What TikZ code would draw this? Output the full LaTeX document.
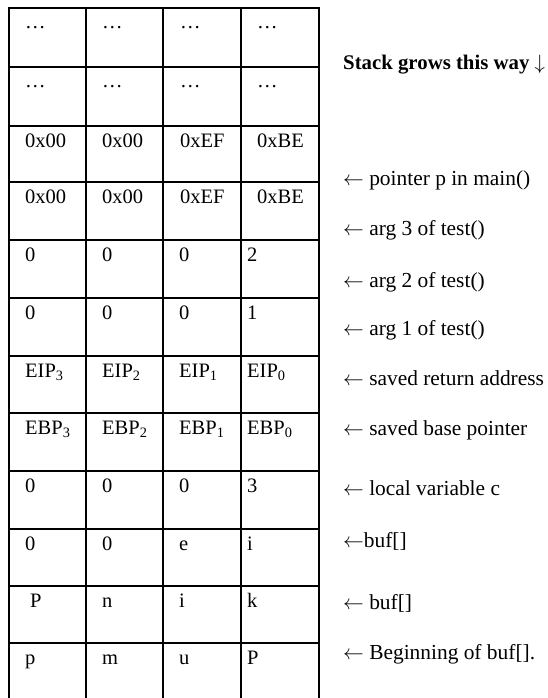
\documentclass[tikz,border=0pt]{standalone}
\usepackage{fontspec}
\setmainfont{Liberation Serif}
\newcommand{\larr}{$\leftarrow$}
\begin{document}
\begin{tikzpicture}[x=1pt,y=-1pt,
  gridline/.style={line width=1.7pt, line cap=rect},
  celltext/.style={anchor=base west, inner sep=0pt, font=\fontsize{20.5}{24}\selectfont},
  labeltext/.style={anchor=base west, inner sep=0pt, font=\fontsize{21.4}{25}\selectfont}]
\useasboundingbox (0,0) rectangle (548,698);
% grid
\def\rowtops{8,67,126,182,240,298,356,413,471,529,586,643}
\foreach \y in \rowtops { \draw[gridline] (9,\y) -- (319,\y); }
\foreach \x in {9,86,163,241,319} { \draw[gridline] (\x,8) -- (\x,698); }
% cell texts: upper rows
\foreach \r/\y in {1/8,2/67} {
  \foreach \c/\x in {1/25,2/102,3/180,4/257} {
    \node[celltext] (c\r\c) at (\x,\y+21) {\dots};
  }
}
\foreach \r/\y in {3/126,4/182} {
  \node[celltext] (c\r1) at (25,\y+21) {0x00};
  \node[celltext] (c\r2) at (102,\y+21) {0x00};
  \node[celltext] (c\r3) at (180,\y+21) {0xEF};
  \node[celltext] (c\r4) at (257,\y+21) {0xBE};
}
% lower rows
\foreach \r/\y/\a/\b/\cc/\d in {
   5/240/0/0/0/2,
   6/298/0/0/0/1,
   7/356/EIP\textsubscript{3}/EIP\textsubscript{2}/EIP\textsubscript{1}/EIP\textsubscript{0},
   8/413/EBP\textsubscript{3}/EBP\textsubscript{2}/EBP\textsubscript{1}/EBP\textsubscript{0},
   9/471/0/0/0/3,
   10/529/0/0/e/i,
   12/643/p/m/u/P} {
  \node[celltext] (c\r1) at (25,\y+21) {\a};
  \node[celltext] (c\r2) at (102,\y+21) {\b};
  \node[celltext] (c\r3) at (179,\y+21) {\cc};
  \node[celltext] (c\r4) at (247,\y+21) {\d};
}
\node[celltext] (c111) at (30,607) {P};
\node[celltext] (c112) at (102,607) {n};
\node[celltext] (c113) at (179,607) {i};
\node[celltext] (c114) at (247,607) {k};
% labels
\node[labeltext, font=\fontsize{20.8}{24}\selectfont\bfseries] (lgrow) at (343,70) {Stack grows this way $\downarrow$};
\node[labeltext] (l1) at (343,185) {\larr{} pointer p in main()};
\node[labeltext] (l2) at (343,235) {\larr{} arg 3 of test()};
\node[labeltext] (l3) at (343,287) {\larr{} arg 2 of test()};
\node[labeltext] (l4) at (343,335) {\larr{} arg 1 of test()};
\node[labeltext] (l5) at (343,385) {\larr{} saved return address};
\node[labeltext] (l6) at (343,435) {\larr{} saved base pointer};
\node[labeltext] (l7) at (343,495) {\larr{} local variable c};
\node[labeltext] (l8) at (343,547) {\larr{}buf[]};
\node[labeltext] (l9) at (343,609) {\larr{} buf[]};
\node[labeltext] (l10) at (343,659) {\larr{} Beginning of buf[].};
\end{tikzpicture}
\end{document}
